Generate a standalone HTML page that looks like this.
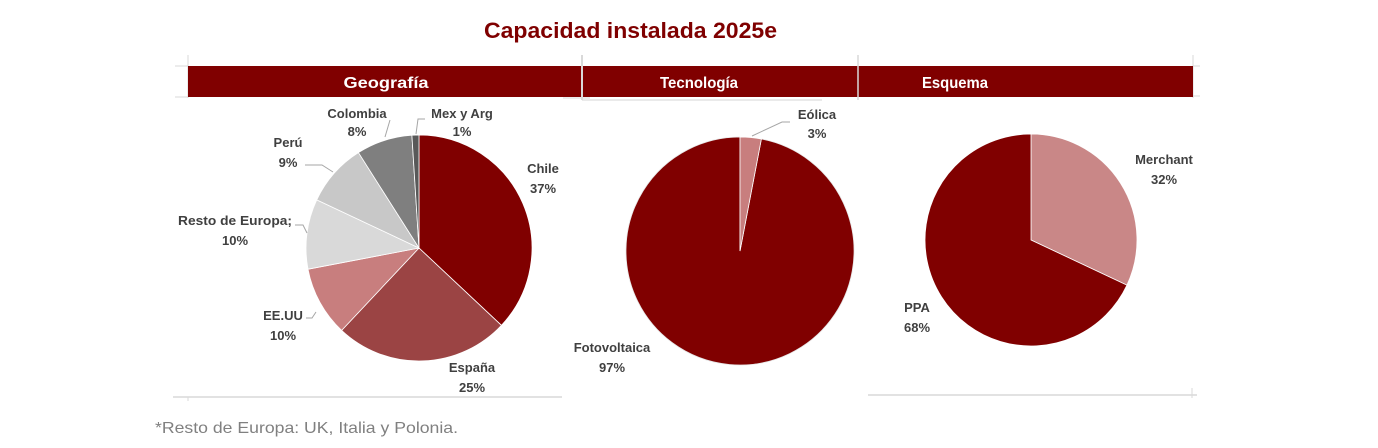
<!DOCTYPE html>
<html>
<head>
<meta charset="utf-8">
<style>
  html, body { margin: 0; padding: 0; background: #ffffff; }
  body { width: 1378px; height: 448px; overflow: hidden; }
  svg { display: block; }
  .lbl { font-family: "Liberation Sans", sans-serif; font-weight: bold; font-size: 13px; fill: #404040; text-anchor: middle; }
  .hdr { font-family: "Liberation Sans", sans-serif; font-weight: bold; font-size: 16px; fill: #ffffff; text-anchor: middle; }
</style>
</head>
<body>
<svg width="1378" height="448" viewBox="0 0 1378 448" xmlns="http://www.w3.org/2000/svg">
  <rect x="0" y="0" width="1378" height="448" fill="#ffffff"/>

  <!-- Title -->
  <text x="484" y="38" font-family="Liberation Sans, sans-serif" font-weight="bold" font-size="22" fill="#7f0000" textLength="293" lengthAdjust="spacingAndGlyphs">Capacidad instalada 2025e</text>

  <!-- faint grid remnants -->
  <line x1="175" y1="66" x2="188" y2="66" stroke="#d9d9d9" stroke-width="1"/>
  <line x1="175" y1="97" x2="188" y2="97" stroke="#d9d9d9" stroke-width="1"/>
  <line x1="188" y1="55" x2="188" y2="98" stroke="#d9d9d9" stroke-width="1"/>
  <line x1="1193" y1="55" x2="1193" y2="98" stroke="#d9d9d9" stroke-width="1"/>
  <line x1="1193" y1="66" x2="1200" y2="66" stroke="#d9d9d9" stroke-width="1"/>
  <line x1="1193" y1="96" x2="1200" y2="96" stroke="#d9d9d9" stroke-width="1"/>
  <line x1="563" y1="98" x2="590" y2="98" stroke="#d9d9d9" stroke-width="1"/>
  <line x1="582" y1="100" x2="822" y2="100" stroke="#e3e3e3" stroke-width="1.5"/>

  <!-- Header bar -->
  <rect x="188" y="66" width="1005" height="31" fill="#800000"/>
  <line x1="582" y1="55" x2="582" y2="100" stroke="#d9d9d9" stroke-width="2"/>
  <line x1="858" y1="55" x2="858" y2="100" stroke="#d9d9d9" stroke-width="1.5"/>
  <text class="hdr" x="386" y="88" textLength="85" lengthAdjust="spacingAndGlyphs">Geografía</text>
  <text class="hdr" x="699" y="88" textLength="78" lengthAdjust="spacingAndGlyphs">Tecnología</text>
  <text class="hdr" x="955" y="88" textLength="66" lengthAdjust="spacingAndGlyphs">Esquema</text>

  <!-- Geografía pie -->
  <g stroke="#ffffff" stroke-width="0.8" stroke-linejoin="round">
    <path d="M419,248 L419,135 A113,113 0 0,1 501.38,325.35 Z" fill="#800000"/>
    <path d="M419,248 L501.38,325.35 A113,113 0 0,1 341.65,330.38 Z" fill="#9b4444"/>
    <path d="M419,248 L341.65,330.38 A113,113 0 0,1 308.0,269.18 Z" fill="#c87e7e"/>
    <path d="M419,248 L308.0,269.18 A113,113 0 0,1 316.76,199.88 Z" fill="#d9d9d9"/>
    <path d="M419,248 L316.76,199.88 A113,113 0 0,1 358.45,152.59 Z" fill="#c8c8c8"/>
    <path d="M419,248 L358.45,152.59 A113,113 0 0,1 411.90,135.22 Z" fill="#7f7f7f"/>
    <path d="M419,248 L411.90,135.22 A113,113 0 0,1 419,135 Z" fill="#595959"/>
  </g>
  <!-- leader lines geografía -->
  <g stroke="#a6a6a6" stroke-width="1" fill="none">
    <polyline points="390,120 385,137"/>
    <polyline points="425,119 418,119 416,134"/>
    <polyline points="305,165 322,165 333,172"/>
    <polyline points="295,225 303,225 307,233"/>
    <polyline points="306,318 312,318 316,312"/>
  </g>
  <text class="lbl" x="357" y="118">Colombia</text>
  <text class="lbl" x="357" y="136">8%</text>
  <text class="lbl" x="462" y="118">Mex y Arg</text>
  <text class="lbl" x="462" y="136">1%</text>
  <text class="lbl" x="543" y="173">Chile</text>
  <text class="lbl" x="543" y="193">37%</text>
  <text class="lbl" x="288" y="147">Perú</text>
  <text class="lbl" x="288" y="167">9%</text>
  <text class="lbl" x="235" y="225" textLength="114" lengthAdjust="spacingAndGlyphs">Resto de Europa;</text>
  <text class="lbl" x="235" y="245">10%</text>
  <text class="lbl" x="283" y="320">EE.UU</text>
  <text class="lbl" x="283" y="340">10%</text>
  <text class="lbl" x="472" y="372">España</text>
  <text class="lbl" x="472" y="392">25%</text>

  <!-- left panel bottom line -->
  <line x1="173" y1="397" x2="562" y2="397" stroke="#d9d9d9" stroke-width="1.5"/>
  <line x1="188" y1="397" x2="188" y2="401" stroke="#d9d9d9" stroke-width="1"/>

  <!-- Tecnología pie -->
  <g stroke="#e6e6e6" stroke-width="0.8">
    <path d="M740,251 L761.36,139.02 A114,114 0 1,1 740,137 Z" fill="#800000"/>
    <path d="M740,251 L740,137 A114,114 0 0,1 761.36,139.02 Z" fill="#c87e7e" stroke="#ffffff"/>
  </g>
  <polyline points="790,122 782,122 752,136" stroke="#a6a6a6" stroke-width="1" fill="none"/>
  <text class="lbl" x="817" y="119">Eólica</text>
  <text class="lbl" x="817" y="138">3%</text>
  <text class="lbl" x="612" y="352">Fotovoltaica</text>
  <text class="lbl" x="612" y="372">97%</text>

  <!-- Esquema pie -->
  <g stroke="#ffffff" stroke-width="0.8">
    <path d="M1031,240 L1031,134 A106,106 0 0,1 1126.91,285.13 Z" fill="#c98787"/>
    <path d="M1031,240 L1126.91,285.13 A106,106 0 1,1 1031,134 Z" fill="#800000"/>
  </g>
  <text class="lbl" x="1164" y="164">Merchant</text>
  <text class="lbl" x="1164" y="184">32%</text>
  <text class="lbl" x="917" y="312">PPA</text>
  <text class="lbl" x="917" y="332">68%</text>

  <!-- right panel bottom line -->
  <line x1="868" y1="395" x2="1197" y2="395" stroke="#d9d9d9" stroke-width="1.5"/>
  <line x1="1192" y1="388" x2="1192" y2="398" stroke="#d9d9d9" stroke-width="1"/>

  <!-- Footnote -->
  <text x="155" y="433" font-family="Liberation Sans, sans-serif" font-size="16" fill="#808080" textLength="303" lengthAdjust="spacingAndGlyphs">*Resto de Europa: UK, Italia y Polonia.</text>
</svg>
</body>
</html>
